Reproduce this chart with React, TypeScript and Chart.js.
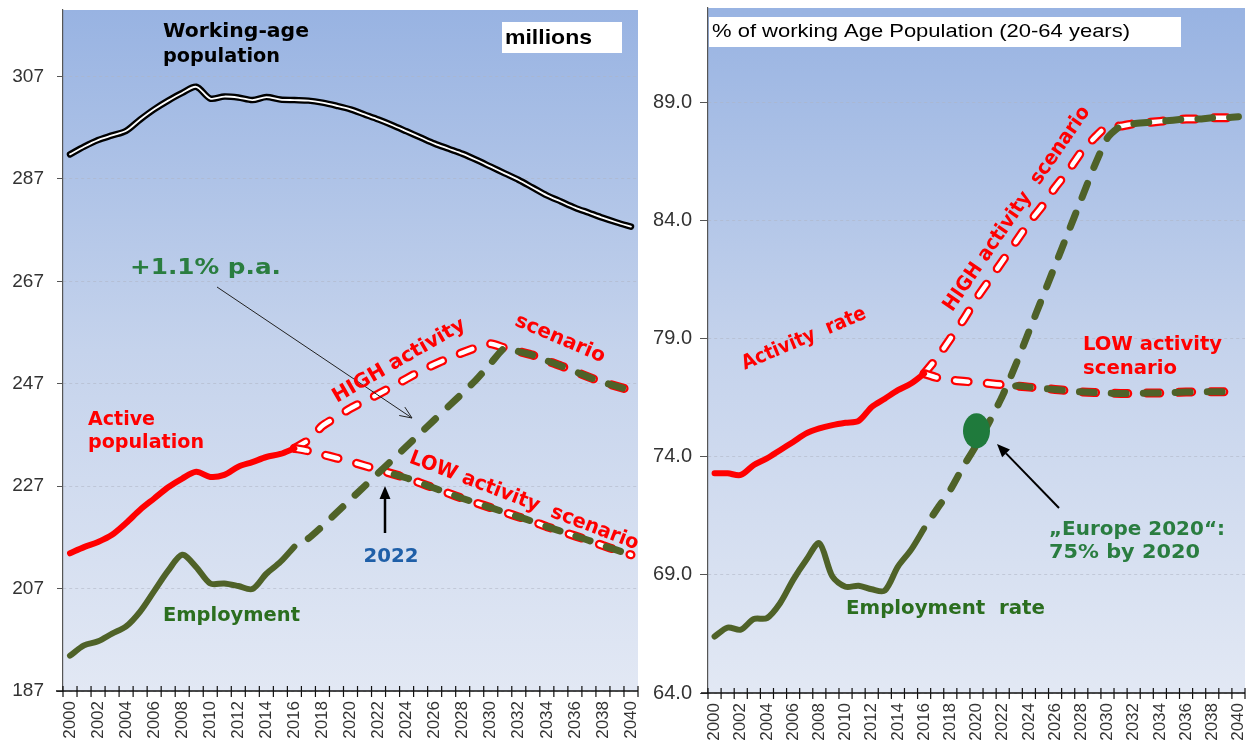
import React, { useEffect, useRef } from "react";
import { Chart, registerables } from "chart.js";

Chart.register(...registerables);

// ---------- categories ----------
const YEARS = [
  "2000", "2001", "2002", "2003", "2004", "2005", "2006", "2007", "2008", "2009",
  "2010", "2011", "2012", "2013", "2014", "2015", "2016", "2017", "2018", "2019",
  "2020", "2021", "2022", "2023", "2024", "2025", "2026", "2027", "2028", "2029",
  "2030", "2031", "2032", "2033", "2034", "2035", "2036", "2037", "2038", "2039",
  "2040",
];
const FIRST_YEAR = 2000;

// ---------- left panel: millions ----------
const WORKING_AGE = [
  291.8, 293.3, 294.6, 295.5, 296.4, 298.6, 300.6, 302.3, 303.8, 305.0,
  302.7, 303.1, 302.9, 302.4, 303.0, 302.5, 302.4, 302.3, 301.9, 301.3,
  300.6, 299.6, 298.6, 297.5, 296.3, 295.1, 293.9, 292.9, 291.9, 290.7,
  289.4, 288.1, 286.8, 285.3, 283.8, 282.6, 281.4, 280.4, 279.4, 278.5,
  277.7,
];
// 2000-2016
const ACTIVE_POP = [
  213.9, 215.1, 216.1, 217.5, 219.8, 222.4, 224.6, 226.8, 228.5, 229.8,
  228.8, 229.2, 230.8, 231.7, 232.7, 233.3, 234.4,
];
const EMPLOYMENT = [
  193.9, 195.9, 196.7, 198.2, 199.6, 202.5, 206.5, 210.5, 213.6, 211.2,
  208.0, 208.0, 207.5, 206.9, 209.9, 212.2, 215.2,
];
// 2016-2040
const ACTIVE_HIGH = [
  234.4, 236.0, 238.8, 240.5, 242.2, 243.6, 245.0, 246.5, 248.0, 249.5,
  250.8, 252.0, 253.1, 254.1, 254.8, 254.0, 253.3, 252.6, 251.5, 250.5,
  249.4, 248.3, 247.3, 246.5, 245.7,
];
const ACTIVE_LOW = [
  234.4, 233.9, 233.2, 232.5, 231.8, 231.0, 230.2, 229.4, 228.6, 227.6,
  226.6, 225.6, 224.6, 223.7, 222.8, 221.9, 221.0, 220.1, 219.1, 218.2,
  217.3, 216.4, 215.4, 214.5, 213.6,
];
const EMPLOYMENT_HIGH = [
  215.2, 216.8, 219.2, 221.8, 224.4, 227.0, 229.6, 232.2, 234.8, 237.4,
  240.0, 242.6, 245.2, 247.9, 251.0, 254.0, 253.3, 252.6, 251.5, 250.5,
  249.4, 248.3, 247.3, 246.5, 245.7,
];
// 2022-2040
const EMPLOYMENT_LOW = [
  229.8, 229.4, 228.6, 227.6, 226.6, 225.6, 224.6, 223.7, 222.8, 221.9,
  221.0, 220.1, 219.1, 218.2, 217.3, 216.4, 215.4, 214.5, 213.6,
];
const LEFT_Y_TICKS = [187, 207, 227, 247, 267, 287, 307];
const LEFT_Y_MIN = 187;
const LEFT_Y_MAX = 320;

// ---------- right panel: % of working-age population ----------
// 2000-2016
const ACTIVITY_RATE = [
  73.3, 73.3, 73.23, 73.65, 73.93, 74.28, 74.63, 74.99, 75.2, 75.34,
  75.44, 75.52, 76.11, 76.46, 76.82, 77.1, 77.52,
];
const EMPLOYMENT_RATE = [
  66.39, 66.77, 66.68, 67.13, 67.17, 67.8, 68.79, 69.63, 70.34, 68.93,
  68.5, 68.54, 68.39, 68.34, 69.35, 70.06, 70.97,
];
// 2016-2040
const ACTIVITY_RATE_HIGH = [
  77.52, 78.2, 79.0, 79.8, 80.7, 81.5, 82.3, 83.1, 83.9, 84.6,
  85.4, 86.1, 86.9, 87.5, 88.0, 88.0, 88.1, 88.15, 88.2, 88.25,
  88.3, 88.3, 88.35, 88.35, 88.4,
];
const ACTIVITY_RATE_LOW = [
  77.52, 77.35, 77.25, 77.2, 77.15, 77.1, 77.05, 77.0, 76.95, 76.9,
  76.85, 76.8, 76.75, 76.72, 76.7, 76.68, 76.68, 76.7, 76.7, 76.72,
  76.74, 76.75, 76.75, 76.75, 76.75,
];
const EMPLOYMENT_RATE_HIGH = [
  70.97, 71.8, 72.6, 73.6, 74.5, 75.5, 76.6, 77.9, 79.3, 80.7,
  82.1, 83.5, 84.9, 86.3, 87.5, 88.0, 88.1, 88.15, 88.2, 88.25,
  88.3, 88.3, 88.35, 88.35, 88.4,
];
// 2022-2040
const EMPLOYMENT_RATE_LOW = [
  76.6, 77.0, 76.95, 76.9, 76.85, 76.8, 76.75, 76.72, 76.7, 76.68,
  76.68, 76.7, 76.7, 76.72, 76.74, 76.75, 76.75, 76.75, 76.75,
];
const EUROPE_2020_TARGET = { year: "2020", value: 75.1 };
const RIGHT_Y_TICKS = [64, 69, 74, 79, 84, 89];
const RIGHT_Y_MIN = 64;
const RIGHT_Y_MAX = 93;

// ---------- styles ----------
const RED = "#ff0000";
const OLIVE = "#4f6228";
const AXIS_FONT = '"Liberation Sans", Arial, sans-serif';
const NOTE_FONT = '"DejaVu Sans", Verdana, sans-serif';
const RED_DASH = [13, 19];
const GREEN_DASH = [15, 17];

function place(startYear: number, values: number[]): (number | null)[] {
  const out: (number | null)[] = YEARS.map(() => null);
  values.forEach((v, i) => {
    out[startYear - FIRST_YEAR + i] = v;
  });
  return out;
}

function line(label: string, data: (number | null)[], color: string, width: number, order: number, extra: any = {}) {
  return {
    label,
    data,
    borderColor: color,
    backgroundColor: color,
    borderWidth: width,
    pointRadius: 0,
    pointHoverRadius: 0,
    tension: 0.3,
    fill: false,
    spanGaps: false,
    borderCapStyle: "round",
    borderJoinStyle: "round",
    order,
    ...extra,
  };
}

function outlined(label: string, data: (number | null)[], order: number) {
  return [
    line(label + " outline", data, RED, 9, order + 1, { borderDash: RED_DASH, tension: 0.2 }),
    line(label + " inner", data, "#ffffff", 4.5, order, { borderDash: RED_DASH, tension: 0.2 }),
  ];
}

function greenDash(label: string, data: (number | null)[], order: number) {
  return line(label, data, OLIVE, 7, order, { borderDash: GREEN_DASH, borderDashOffset: 16, tension: 0.2 });
}

type Note = {
  s: string; x: number; y: number; color: string; size: number;
  bold?: boolean; family?: string; angle?: number; align?: CanvasTextAlign; w?: number;
};

function drawNote(ctx: CanvasRenderingContext2D, t: Note) {
  ctx.save();
  ctx.translate(t.x, t.y);
  if (t.angle) ctx.rotate((t.angle * Math.PI) / 180);
  ctx.font = `${t.bold === false ? "" : "bold "}${t.size}px ${t.family || NOTE_FONT}`;
  ctx.fillStyle = t.color;
  ctx.textBaseline = "middle";
  ctx.textAlign = t.align || "left";
  if (t.w) {
    const m = ctx.measureText(t.s).width;
    ctx.scale(t.w / m, 1);
  }
  ctx.fillText(t.s, 0, 0);
  ctx.restore();
}

function arrow(ctx: CanvasRenderingContext2D, x1: number, y1: number, x2: number, y2: number,
  width: number, head: number, filled: boolean, color = "#000") {
  const a = Math.atan2(y2 - y1, x2 - x1);
  ctx.save();
  ctx.strokeStyle = color;
  ctx.fillStyle = color;
  ctx.lineWidth = width;
  ctx.lineCap = "butt";
  const bx = x2 - head * Math.cos(a);
  const by = y2 - head * Math.sin(a);
  ctx.beginPath();
  ctx.moveTo(x1, y1);
  ctx.lineTo(filled ? bx : x2, filled ? by : y2);
  ctx.stroke();
  const hw = head * 0.42;
  const p1x = bx + hw * Math.sin(a), p1y = by - hw * Math.cos(a);
  const p2x = bx - hw * Math.sin(a), p2y = by + hw * Math.cos(a);
  ctx.beginPath();
  if (filled) {
    ctx.moveTo(x2, y2);
    ctx.lineTo(p1x, p1y);
    ctx.lineTo(p2x, p2y);
    ctx.closePath();
    ctx.fill();
  } else {
    ctx.moveTo(p1x, p1y);
    ctx.lineTo(x2, y2);
    ctx.lineTo(p2x, p2y);
    ctx.stroke();
  }
  ctx.restore();
}

type PanelSpec = {
  datasets: any[];
  yMin: number; yMax: number; yTicks: number[]; yFmt: (v: number) => string;
  yFontSize: number; yPad: number; yTickLen: number;
  padTop: number; padRight: number; yWidth: number; xHeight: number;
  pageX: number;
  notes: (ctx: CanvasRenderingContext2D, chart: any) => void;
};

function makeConfig(p: PanelSpec): any {
  const bgPlugin = {
    id: "bg",
    beforeDraw(chart: any) {
      const { ctx, chartArea: a } = chart;
      const g = ctx.createLinearGradient(0, a.top, 0, a.bottom);
      g.addColorStop(0, "#98b3e2");
      g.addColorStop(0.5, "#c5d3ec");
      g.addColorStop(1, "#e2e8f4");
      ctx.save();
      ctx.fillStyle = g;
      ctx.fillRect(a.left, a.top, a.right - a.left, a.bottom - a.top);
      ctx.restore();
    },
  };
  const axisPlugin = {
    id: "xaxisline",
    afterDraw(chart: any) {
      const { ctx, chartArea: a } = chart;
      const xs = chart.scales.x;
      ctx.save();
      ctx.strokeStyle = "#111";
      ctx.lineWidth = 1.5;
      ctx.beginPath();
      ctx.moveTo(a.left - 7, a.bottom);
      ctx.lineTo(a.right, a.bottom);
      ctx.stroke();
      ctx.lineWidth = 1.2;
      ctx.beginPath();
      const n = YEARS.length;
      for (let k = 0; k <= n; k++) {
        let x: number;
        if (k === 0) x = a.left;
        else if (k === n) x = a.right;
        else x = (xs.getPixelForValue(k - 1) + xs.getPixelForValue(k)) / 2;
        ctx.moveTo(x, a.bottom - 5);
        ctx.lineTo(x, a.bottom + 6);
      }
      ctx.stroke();
      ctx.restore();
    },
  };
  const notesPlugin = {
    id: "notes",
    afterDraw(chart: any) {
      const ctx = chart.ctx;
      ctx.save();
      ctx.translate(-p.pageX, 0);
      p.notes(ctx, chart);
      ctx.restore();
    },
  };
  return {
    type: "line",
    data: { labels: YEARS, datasets: p.datasets },
    options: {
      responsive: false,
      animation: false,
      devicePixelRatio: 1,
      events: [],
      layout: { padding: { top: p.padTop, right: p.padRight, left: 0, bottom: 0 } },
      plugins: { legend: { display: false }, tooltip: { enabled: false }, title: { display: false } },
      scales: {
        x: {
          type: "category",
          offset: true,
          grid: { display: true, drawOnChartArea: false, drawTicks: true, tickLength: 6, color: "rgba(0,0,0,0)" },
          border: { display: false },
          ticks: {
            autoSkip: false,
            maxRotation: 90,
            minRotation: 90,
            padding: 4,
            color: "#333",
            font: { family: AXIS_FONT, size: 17 },
            callback: function (this: any, val: any, idx: number) {
              return idx % 2 === 0 ? this.getLabelForValue(val) : "";
            },
          },
          afterFit(s: any) {
            s.height = p.xHeight;
            s.paddingLeft = 0;
            s.paddingRight = 0;
          },
        },
        y: {
          type: "linear",
          min: p.yMin,
          max: p.yMax,
          afterBuildTicks(s: any) {
            s.ticks = p.yTicks.map((v) => ({ value: v }));
          },
          afterFit(s: any) {
            s.width = p.yWidth;
            s.paddingTop = 0;
            s.paddingBottom = 0;
          },
          grid: {
            color: "rgba(175,180,195,0.55)",
            lineWidth: 1,
            drawTicks: true,
            tickLength: p.yTickLen,
            tickColor: "#555",
            tickWidth: 1,
          },
          border: { display: true, color: "#555", width: 1.2, dash: [3, 3] },
          ticks: {
            padding: p.yPad,
            color: "#333",
            font: { family: AXIS_FONT, size: p.yFontSize },
            callback: (v: any) => p.yFmt(Number(v)),
          },
        },
      },
    },
    plugins: [bgPlugin, axisPlugin, notesPlugin],
  };
}

const TEXT_GREEN = "#2b6e1f";
const NOTE_GREEN = "#2a7d40";

function leftSpec(): PanelSpec {
  const datasets = [
    line("Employment", place(2000, EMPLOYMENT), OLIVE, 6, 1),
    line("Active population", place(2000, ACTIVE_POP), RED, 6, 2),
    greenDash("Employment LOW", place(2022, EMPLOYMENT_LOW), 3),
    greenDash("Employment HIGH", place(2016, EMPLOYMENT_HIGH), 4),
    ...outlined("Active LOW", place(2016, ACTIVE_LOW), 5),
    ...outlined("Active HIGH", place(2016, ACTIVE_HIGH), 7),
    line("Working-age inner", WORKING_AGE, "#ffffff", 1.8, 9),
    line("Working-age population", WORKING_AGE, "#000000", 6.5, 10),
  ];
  return {
    datasets,
    yMin: LEFT_Y_MIN, yMax: LEFT_Y_MAX, yTicks: LEFT_Y_TICKS,
    yFmt: (v) => String(v),
    yFontSize: 19, yPad: 13, yTickLen: 6,
    padTop: 10, padRight: 7, yWidth: 63, xHeight: 53,
    pageX: 0,
    notes: (ctx) => {
      drawNote(ctx, { s: "Working-age", x: 163, y: 32, color: "#000", size: 20, w: 146 });
      drawNote(ctx, { s: "population", x: 163, y: 57, color: "#000", size: 20, w: 117 });
      ctx.fillStyle = "#ffffff";
      ctx.fillRect(502, 22, 120, 31);
      drawNote(ctx, { s: "millions", x: 505, y: 38, color: "#000", size: 21, family: AXIS_FONT, w: 87 });
      drawNote(ctx, { s: "+1.1% p.a.", x: 130, y: 268, color: NOTE_GREEN, size: 22, w: 151 });
      arrow(ctx, 217, 287, 412, 418, 1, 12, false, "#222");
      drawNote(ctx, { s: "HIGH activity", x: 399, y: 361, color: RED, size: 20, angle: -30, align: "center", w: 150 });
      drawNote(ctx, { s: "scenario", x: 560, y: 339, color: RED, size: 20, angle: 23, align: "center", w: 96 });
      drawNote(ctx, { s: "Active", x: 88, y: 420, color: RED, size: 20, w: 67 });
      drawNote(ctx, { s: "population", x: 88, y: 443, color: RED, size: 20, w: 116 });
      drawNote(ctx, { s: "LOW activity  scenario", x: 524, y: 501, color: RED, size: 20, angle: 21, align: "center", w: 244 });
      drawNote(ctx, { s: "2022", x: 391, y: 557, color: "#1f5fa8", size: 20, align: "center", w: 55 });
      arrow(ctx, 385, 533, 385, 486, 2.5, 13, true, "#000");
      drawNote(ctx, { s: "Employment", x: 163, y: 616, color: TEXT_GREEN, size: 20, w: 137 });
    },
  };
}

function rightSpec(): PanelSpec {
  const datasets = [
    line("Employment rate", place(2000, EMPLOYMENT_RATE), OLIVE, 6, 1),
    line("Activity rate", place(2000, ACTIVITY_RATE), RED, 6, 2),
    greenDash("Employment rate LOW", place(2022, EMPLOYMENT_RATE_LOW), 3),
    greenDash("Employment rate HIGH", place(2016, EMPLOYMENT_RATE_HIGH), 4),
    ...outlined("Activity rate LOW", place(2016, ACTIVITY_RATE_LOW), 5),
    ...outlined("Activity rate HIGH", place(2016, ACTIVITY_RATE_HIGH), 7),
  ];
  return {
    datasets,
    yMin: RIGHT_Y_MIN, yMax: RIGHT_Y_MAX, yTicks: RIGHT_Y_TICKS,
    yFmt: (v) => v.toFixed(1),
    yFontSize: 20, yPad: 8, yTickLen: 8,
    padTop: 8, padRight: 2, yWidth: 63, xHeight: 51,
    pageX: 645,
    notes: (ctx, chart) => {
      ctx.fillStyle = "#ffffff";
      ctx.fillRect(709, 17, 472, 30);
      drawNote(ctx, {
        s: "% of working Age Population (20-64 years)", x: 712, y: 32, color: "#000",
        size: 19, bold: false, family: AXIS_FONT, w: 418,
      });
      drawNote(ctx, { s: "Activity  rate", x: 804, y: 339, color: RED, size: 20, angle: -23, align: "center", w: 133 });
      drawNote(ctx, { s: "HIGH activity  scenario", x: 1017, y: 209, color: RED, size: 20, angle: -55.5, align: "center", w: 244 });
      drawNote(ctx, { s: "LOW activity", x: 1083, y: 345, color: RED, size: 20, w: 139 });
      drawNote(ctx, { s: "scenario", x: 1083, y: 369, color: RED, size: 20, w: 94 });
      // Europe 2020 target marker, positioned through the scales
      const xs = chart.scales.x;
      const ys = chart.scales.y;
      const cx = xs.getPixelForValue(YEARS.indexOf(EUROPE_2020_TARGET.year)) + 645;
      const cy = ys.getPixelForValue(EUROPE_2020_TARGET.value);
      ctx.save();
      ctx.fillStyle = "#1f7a3c";
      ctx.beginPath();
      ctx.ellipse(cx, cy, 13.5, 17.5, 0, 0, Math.PI * 2);
      ctx.fill();
      ctx.restore();
      arrow(ctx, 1059, 508, 997, 444, 2, 13, true, "#000");
      drawNote(ctx, { s: "\u201EEurope 2020\u201C:", x: 1049, y: 530, color: NOTE_GREEN, size: 20, w: 176 });
      drawNote(ctx, { s: "75% by 2020", x: 1049, y: 553, color: NOTE_GREEN, size: 20, w: 151 });
      drawNote(ctx, { s: "Employment  rate", x: 846, y: 609, color: TEXT_GREEN, size: 20, w: 199 });
    },
  };
}

export default function App() {
  const leftRef = useRef<HTMLCanvasElement>(null);
  const rightRef = useRef<HTMLCanvasElement>(null);

  useEffect(() => {
    const c1 = new Chart(leftRef.current as HTMLCanvasElement, makeConfig(leftSpec()));
    const c2 = new Chart(rightRef.current as HTMLCanvasElement, makeConfig(rightSpec()));
    return () => {
      c1.destroy();
      c2.destroy();
    };
  }, []);

  return (
    <div style={{ position: "fixed", left: 0, top: 0, width: 1247, height: 744, background: "#ffffff" }}>
      <canvas
        ref={leftRef}
        width={645}
        height={744}
        style={{ position: "absolute", left: 0, top: 0, width: 645, height: 744 }}
      />
      <canvas
        ref={rightRef}
        width={602}
        height={744}
        style={{ position: "absolute", left: 645, top: 0, width: 602, height: 744 }}
      />
    </div>
  );
}
